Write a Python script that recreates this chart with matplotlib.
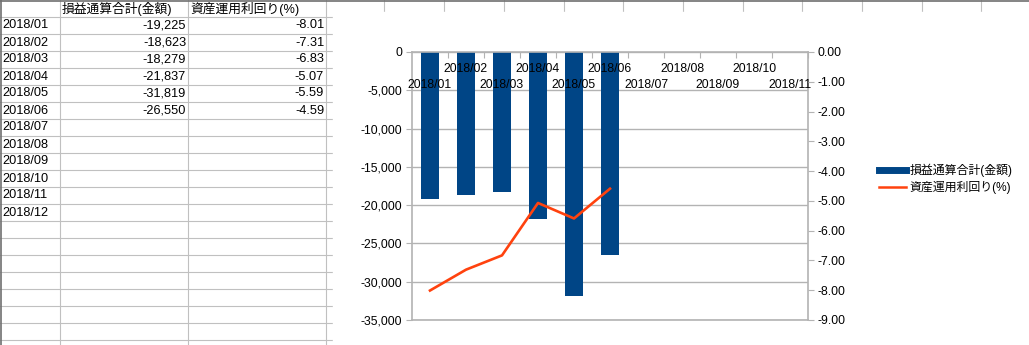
import matplotlib.pyplot as plt
import matplotlib
from matplotlib.lines import Line2D
from matplotlib.ticker import FuncFormatter

matplotlib.rcParams['font.family'] = ['Liberation Sans', 'Noto Sans CJK JP']
matplotlib.rcParams['axes.unicode_minus'] = False

# data from the sheet
months = ['2018/01', '2018/02', '2018/03', '2018/04', '2018/05', '2018/06',
          '2018/07', '2018/08', '2018/09', '2018/10', '2018/11', '2018/12']
pl_total = [-19225, -18623, -18279, -21837, -31819, -26550]
yield_pct = [-8.01, -7.31, -6.83, -5.07, -5.59, -4.59]
header_pl = '損益通算合計(金額)'
header_yield = '資産運用利回り(%)'
chart_months = months[:11]   # chart x range ends at 2018/11

W, H = 1029, 345
fig = plt.figure(figsize=(W / 100, H / 100), dpi=100)

########## 1. SPREADSHEET BACKGROUND (pixel coords)
bg = fig.add_axes([0, 0, 1, 1])
bg.set_xlim(0, W)
bg.set_ylim(H, 0)
bg.axis('off')

grid_c = '#c0c0c0'
row_h = 17
for k in range(1, 21):
    bg.plot([0, 333], [k * row_h, k * row_h], color=grid_c, lw=0.8)
for xc in [60, 188, 326]:
    bg.plot([xc, xc], [0, H], color=grid_c, lw=0.8)
for xc in [384, 444, 504, 564, 623, 683, 743, 802, 862, 922, 981]:
    bg.plot([xc, xc], [0, 12], color=grid_c, lw=0.8)
bg.plot([0, W], [0.5, 0.5], color='#707070', lw=1.2)
bg.plot([0.5, 0.5], [0, H], color='#707070', lw=1.2)

fs = 9.2
bg.text(62, 8.5, header_pl, fontsize=fs, va='center', ha='left')
bg.text(190, 8.5, header_yield, fontsize=fs, va='center', ha='left')
for i, m in enumerate(months):
    yc = (i + 1) * row_h + 8.5
    bg.text(2, yc, m, fontsize=fs, va='center', ha='left')
    if i < len(pl_total):
        bg.text(186, yc, f'{pl_total[i]:,}', fontsize=fs, va='center', ha='right')
        bg.text(324, yc, f'{yield_pct[i]:.2f}', fontsize=fs, va='center', ha='right')

# chart object covers the grid
bg.add_patch(plt.Rectangle((333, 12), W - 333, H - 12, color='white', zorder=5))

########## 2. CHART
L, R, T, B = 412, 808, 52, 320
ax = fig.add_axes([L / W, (H - B) / H, (R - L) / W, (B - T) / H])
gray = '#b3b3b3'
x = list(range(len(chart_months)))

ax.bar(x[:len(pl_total)], pl_total, width=0.5, color='#004586', zorder=2)
ax.set_xlim(-0.5, len(chart_months) - 0.5)
ax.set_ylim(-35000, 0)
ax.set_yticks(range(-35000, 1, 5000))
ax.yaxis.set_major_formatter(FuncFormatter(lambda v, p: f'{int(v):,}'))
ax.grid(axis='y', color=gray, lw=1)
ax.set_axisbelow(True)
for s in ax.spines.values():
    s.set_color(gray)
    s.set_linewidth(1.2)
ax.tick_params(axis='y', length=4, color=gray, labelsize=8.8, pad=3)

# category boundary ticks on the zero line
ax.xaxis.set_ticks_position('top')
ax.set_xticks([i + 0.5 for i in x[:-1]] + [len(chart_months) - 0.5])
ax.set_xticklabels([])
ax.tick_params(axis='x', direction='in', length=4, color=gray)

# staggered month labels
for i, m in enumerate(chart_months):
    ypos = 1 - 33 / (B - T) if i % 2 == 0 else 1 - 17 / (B - T)
    ax.text(i, ypos, m, transform=ax.get_xaxis_transform(), fontsize=8.8,
            ha='center', va='center', zorder=4)

ax2 = ax.twinx()
ax2.plot(x[:len(yield_pct)], yield_pct, color='#ff420e', lw=1.9)
ax2.set_ylim(-9, 0)
ax2.set_yticks(range(-9, 1))
ax2.yaxis.set_major_formatter(FuncFormatter(lambda v, p: f'{v:.2f}'))
for s in ax2.spines.values():
    s.set_visible(False)
ax2.tick_params(axis='y', length=4, color=gray, labelsize=8.8, pad=3)

########## 3. LEGEND
handles = [Line2D([], [], color='#004586', lw=5),
           Line2D([], [], color='#ff420e', lw=1.8)]
fig.legend(handles, [header_pl, header_yield], loc='center left',
           bbox_to_anchor=(868 / W, (H - 179) / H), frameon=False,
           fontsize=8.6, handlelength=2.3, handletextpad=0.3, labelspacing=0.3)

fig.savefig('out.png', dpi=100)
